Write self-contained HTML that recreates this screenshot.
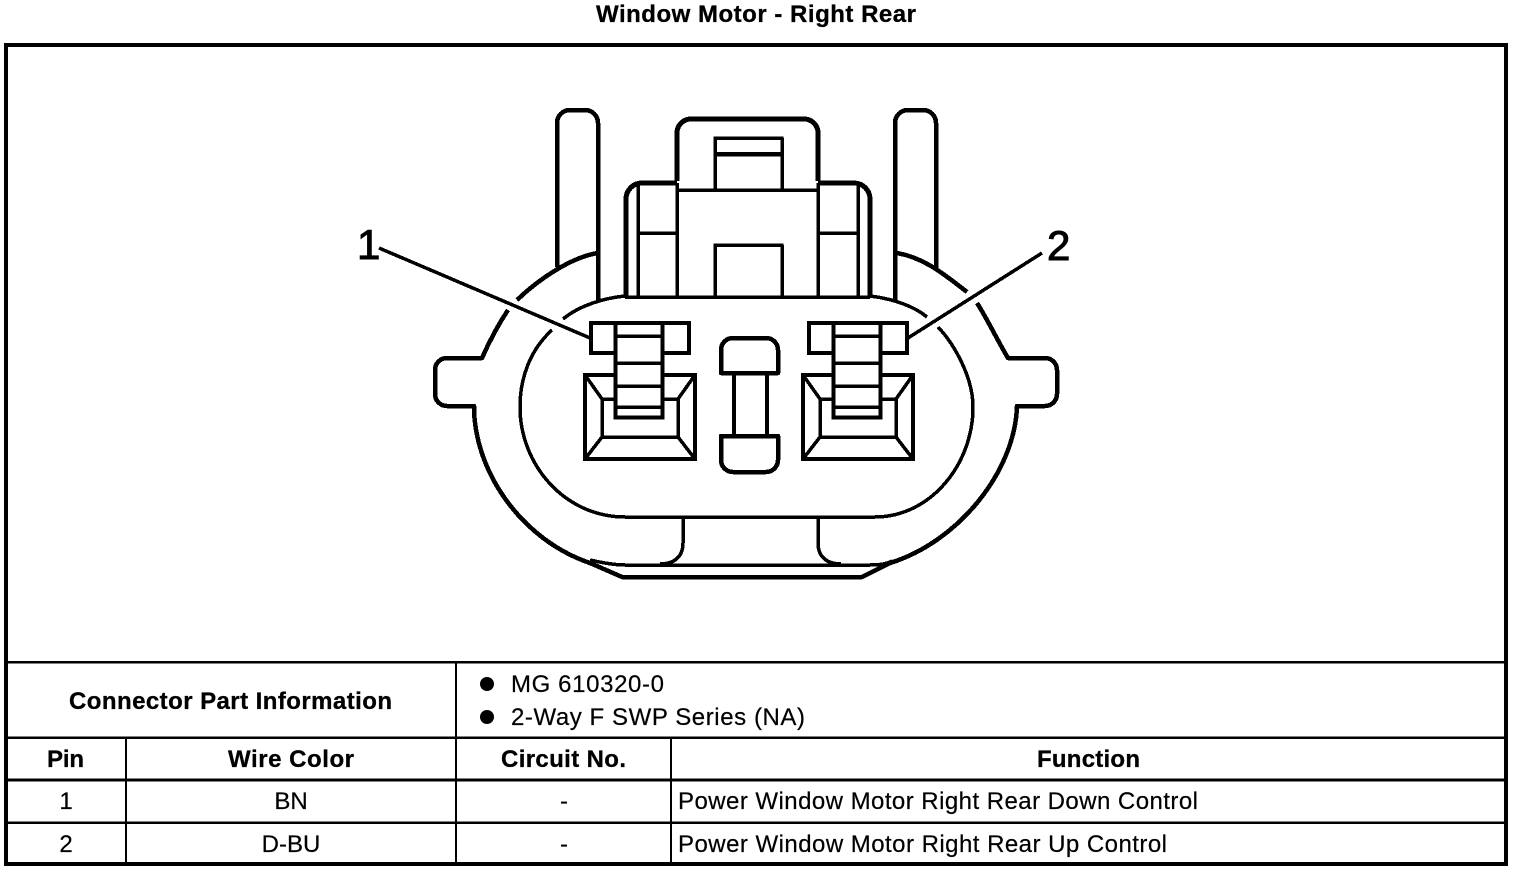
<!DOCTYPE html>
<html>
<head>
<meta charset="utf-8">
<style>
html,body{margin:0;padding:0;background:#fff;width:1520px;height:872px;overflow:hidden}
svg{display:block}
text{font-family:"Liberation Sans",Arial,sans-serif;fill:#000;font-size:24px;stroke:#000;stroke-width:.2px}
.b{font-weight:bold;stroke-width:.3px}
</style>
</head>
<body>
<svg width="1520" height="872" viewBox="0 0 1520 872" xmlns="http://www.w3.org/2000/svg">
<rect width="1520" height="872" fill="#fff"/>

<!-- Frame and table -->
<g fill="none" stroke="#000" shape-rendering="crispEdges">
<rect x="6" y="45" width="1500" height="819" stroke-width="4"/>
<path d="M6 662H1506M6 737.5H1506M6 822.5H1506" stroke-width="2.5"/>
<path d="M6 780H1506" stroke-width="3"/>
<path d="M456 662V864M126 737V864M671 737V864" stroke-width="2"/>
</g>

<!-- Connector -->
<g fill="none" stroke="#000" stroke-linejoin="round" shape-rendering="crispEdges">
<!-- prongs -->
<path stroke-width="4.5" d="M557 267V123A13 13 0 0 1 570 110H585A13 13 0 0 1 598 123V300"/>
<path stroke-width="4.5" d="M895 300V123A13 13 0 0 1 908 110H923A13 13 0 0 1 936 123V268"/>
<!-- housing -->
<path stroke-width="5" d="M677 181V133A14 14 0 0 1 691 119H804A14 14 0 0 1 818 133V181"/>
<path stroke-width="5" d="M626 297V199A16 16 0 0 1 642 183H677"/>
<path stroke-width="5" d="M818 183H854A16 16 0 0 1 870 199V297"/>
<path stroke-width="3.5" d="M638 183V297M677 183V297M818 183V297M858 183V297M677 190H818M638 233H677M818 233H858M715 190V138H782V190M715 297V245H782V297"/>
<path stroke-width="4.5" d="M715 154H782"/>
<path stroke-width="3.5" d="M625 297H870"/>
<!-- outer body -->
<path stroke-width="4.5" d="M598 253C572 257 540 278 517 300"/>
<path stroke-width="4.5" d="M508 310C498 325 490 340 482 358H447A12 12 0 0 0 435 370V394A12 12 0 0 0 447 406H474C474 472 522 540 590 563L622 577H862L890 563C958 542 1015 472 1017 406H1045A12 12 0 0 0 1057 394V370A12 12 0 0 0 1045 358H1008C1000 345 985 315 977 303"/>
<path stroke-width="4.5" d="M897 253C925 258 945 275 967 292"/>
<path stroke-width="3.5" d="M590 560Q612 565 625 565H870Q885 565 892 561"/>
<!-- inner oval -->
<path stroke-width="3.5" d="M625 296C605 298 580 305 563 319"/>
<path stroke-width="3.5" d="M552 330C530 350 520 378 520 407C520 465 565 517 625 517H875C930 517 973 465 973 407C973 378 955 345 938 327"/>
<path stroke-width="3.5" d="M927 317C915 307 895 299 870 296"/>
<!-- stems -->
<path stroke-width="3.5" d="M683 517V543C683 556 675 564 660 564"/>
<path stroke-width="3.5" d="M818 517V543C818 556 826 564 841 564"/>
<!-- key -->
<path stroke-width="4.5" d="M721 373V350A12 12 0 0 1 733 338H766A12 12 0 0 1 778 350V373Z"/>
<path stroke-width="4.5" d="M721 436H778V460A12 12 0 0 1 766 472H733A12 12 0 0 1 721 460Z"/>
<path stroke-width="4" d="M734 374V436M767 374V436"/>
<!-- leaders -->
<path stroke-width="3.5" d="M379 248L590 338"/>
<path stroke-width="3.5" d="M1042 253L908 338"/>
</g>

<g fill="#fff" stroke="#000" shape-rendering="crispEdges">
<rect x="585" y="375" width="110" height="84" stroke-width="4"/>
<path fill="none" stroke-width="3.5" d="M585 375L602 399M695 375L678 399M585 459L602 437M695 459L678 437M602 399V437H678V399M602 399H615M663 399H678"/>
<rect x="591" y="323" width="98" height="30" stroke-width="4"/>
<rect x="615.500" y="323" width="47" height="94.500" stroke-width="4"/>
<path fill="none" stroke-width="3.5" d="M615 336H663M615 363H663M615 386H663M615 407H663"/>
</g>
<g transform="translate(218 0)" fill="#fff" stroke="#000" shape-rendering="crispEdges">
<rect x="585" y="375" width="110" height="84" stroke-width="4"/>
<path fill="none" stroke-width="3.5" d="M585 375L602 399M695 375L678 399M585 459L602 437M695 459L678 437M602 399V437H678V399M602 399H615M663 399H678"/>
<rect x="591" y="323" width="98" height="30" stroke-width="4"/>
<rect x="615.500" y="323" width="47" height="94.500" stroke-width="4"/>
<path fill="none" stroke-width="3.5" d="M615 336H663M615 363H663M615 386H663M615 407H663"/>
</g>

<!-- Callout labels -->
<text x="357" y="259" style="font-size:42px;stroke-width:1px">1</text>
<text x="1047" y="260" style="font-size:42px;stroke-width:1px">2</text>

<!-- Title -->
<text class="b" x="596" y="22" textLength="320" lengthAdjust="spacing">Window Motor - Right Rear</text>

<!-- Table text -->
<text class="b" x="69" y="709" textLength="323" lengthAdjust="spacing">Connector Part Information</text>
<circle cx="487" cy="684" r="7" fill="#000"/>
<circle cx="487" cy="717" r="7" fill="#000"/>
<text x="511" y="692" textLength="153" lengthAdjust="spacing">MG 610320-0</text>
<text x="511" y="725" textLength="294" lengthAdjust="spacing">2-Way F SWP Series (NA)</text>

<text class="b" x="47" y="767" textLength="37" lengthAdjust="spacing">Pin</text>
<text class="b" x="228" y="767" textLength="126" lengthAdjust="spacing">Wire Color</text>
<text class="b" x="501" y="767" textLength="125" lengthAdjust="spacing">Circuit No.</text>
<text class="b" x="1037" y="767" textLength="103" lengthAdjust="spacing">Function</text>

<text x="66" y="809" text-anchor="middle">1</text>
<text x="291" y="809" text-anchor="middle">BN</text>
<text x="564" y="809" text-anchor="middle">-</text>
<text x="678" y="809" textLength="520" lengthAdjust="spacing">Power Window Motor Right Rear Down Control</text>

<text x="66" y="852" text-anchor="middle">2</text>
<text x="291" y="852" text-anchor="middle">D-BU</text>
<text x="564" y="852" text-anchor="middle">-</text>
<text x="678" y="852" textLength="489" lengthAdjust="spacing">Power Window Motor Right Rear Up Control</text>
</svg>
</body>
</html>
